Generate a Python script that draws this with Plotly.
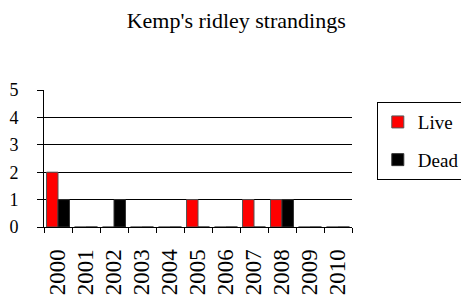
import plotly.graph_objects as go

years = ["2000", "2001", "2002", "2003", "2004", "2005", "2006", "2007", "2008", "2009", "2010"]
live = [2, 0, 0, 0, 0, 1, 0, 1, 1, 0, 0]
dead = [1, 0, 1, 0, 0, 0, 0, 0, 1, 0, 0]
y_ticks = [0, 1, 2, 3, 4, 5]

font = "Liberation Serif, Times New Roman, serif"

fig = go.Figure()
fig.add_trace(go.Bar(x=years, y=live, name="Live", legendgroup="a",
                     marker=dict(color="#FF0000", line=dict(color="#555555", width=1))))
fig.add_trace(go.Bar(x=years, y=dead, name="Dead", legendgroup="b",
                     marker=dict(color="#000000", line=dict(color="#333333", width=1))))

# page body has an 8px default margin, so the figure is 8px smaller than the window
fig.update_layout(
    width=461, height=294,
    margin=dict(l=36, r=117, t=82, b=75, autoexpand=False),
    paper_bgcolor="white", plot_bgcolor="white",
    font=dict(family=font, size=18, color="black"),
    title=dict(text="Kemp's ridley strandings", x=0.495, xref="container", xanchor="center",
               y=0.958, yanchor="middle", font=dict(family=font, size=22, color="black")),
    barmode="group", bargap=0.18, bargroupgap=0,
    showlegend=True,
    legend=dict(x=0.80, y=0.680, xref="container", yref="container",
                xanchor="left", yanchor="top",
                bordercolor="black", borderwidth=1, bgcolor="white",
                font=dict(family=font, size=19, color="black"),
                itemwidth=30,
                tracegroupgap=10, traceorder="grouped"),
)
fig.update_xaxes(
    type="category", showline=True, linecolor="black", linewidth=1,
    ticks="outside", tickson="boundaries", ticklen=5, tickcolor="black",
    tickangle=-90, showgrid=False, tickfont=dict(family=font, size=23),
    ticklabelstandoff=12, automargin=False,
)
fig.update_yaxes(
    range=[0, 5], tickvals=y_ticks, showline=True, linecolor="black", linewidth=1,
    ticks="outside", ticklen=6, tickcolor="black",
    showgrid=True, gridcolor="black", gridwidth=1, zeroline=False,
    tickfont=dict(family=font, size=18), ticklabelstandoff=15, automargin=False,
)

fig.write_html("out.html")
